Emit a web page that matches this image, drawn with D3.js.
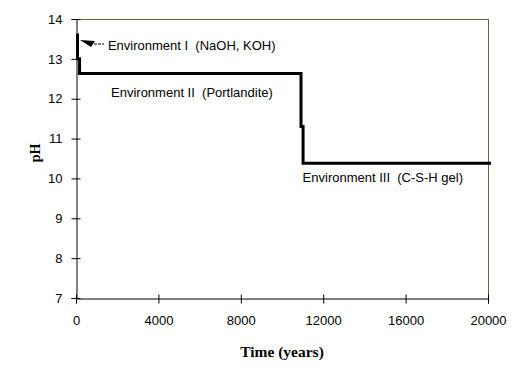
<!DOCTYPE html>
<html>
<head>
<meta charset="utf-8">
<script src="https://cdn.jsdelivr.net/npm/d3@7"></script>
<style>
  body { margin: 0; background: #fff; }
</style>
</head>
<body>
<svg id="chart" width="515" height="381"></svg>
<script>
// step curve of pH over time
const years = [0, 0, 100, 100, 10850, 10850, 10950, 10950, 20000];
const phValues = [13.6, 13.0, 13.0, 12.63, 12.63, 11.3, 11.3, 10.38, 10.38];
const xTicks = [0, 4000, 8000, 12000, 16000, 20000];
const yTicks = [7, 8, 9, 10, 11, 12, 13, 14];
const labels = [
  { text: "Environment I  (NaOH, KOH)", t: 1550, ph: 13.22 },
  { text: "Environment II  (Portlandite)", t: 1700, ph: 12.04 },
  { text: "Environment III  (C-S-H gel)", t: 11000, ph: 9.91 }
];

const sans = "Arial, 'Liberation Sans', sans-serif";
const serif = "'Times New Roman', 'Liberation Serif', serif";

const svg = d3.select("#chart");
const mLeft = 76, mRight = 488, mTop = 19, mBottom = 298;

const x = d3.scaleLinear().domain([0, 20000]).range([mLeft, mRight]);
const y = d3.scaleLinear().domain([7, 14]).range([mBottom, mTop]);

// plot frame (top & right in olive)
svg.append("line")
  .attr("x1", mLeft).attr("x2", mRight).attr("y1", mTop + 0.5).attr("y2", mTop + 0.5)
  .attr("stroke", "#666633").attr("stroke-width", 1);
svg.append("line")
  .attr("x1", mRight + 0.5).attr("x2", mRight + 0.5).attr("y1", mTop).attr("y2", mBottom)
  .attr("stroke", "#666633").attr("stroke-width", 1);

const xAxis = svg.append("g")
  .attr("transform", "translate(0," + (mBottom + 0.5) + ")")
  .call(d3.axisBottom(x).tickValues(xTicks).tickSize(5).tickPadding(12).tickFormat(d3.format("d")));
xAxis.selectAll(".tick line").attr("y1", -4);

const yAxis = svg.append("g")
  .attr("transform", "translate(" + (mLeft + 0.5) + ",0)")
  .call(d3.axisLeft(y).tickValues(yTicks).tickSize(5).tickPadding(9).tickFormat(d3.format("d")));
yAxis.selectAll(".tick line").attr("x1", 4);

svg.selectAll(".domain").attr("stroke", "#000");
svg.selectAll(".tick text")
  .style("font-size", "13px")
  .style("font-family", sans)
  .attr("fill", "#000");

// data line
const line = d3.line()
  .x((d, i) => x(years[i]) + 1.5)
  .y(d => y(d));

svg.append("path")
  .datum(phValues)
  .attr("d", line)
  .attr("fill", "none")
  .attr("stroke", "#000")
  .attr("stroke-width", 3)
  .attr("stroke-linejoin", "miter")
  .attr("stroke-linecap", "square");

// annotations
svg.selectAll("text.env")
  .data(labels)
  .enter().append("text")
  .attr("class", "env")
  .attr("x", d => x(d.t))
  .attr("y", d => y(d.ph))
  .style("font-size", "13px")
  .style("font-family", sans)
  .style("white-space", "pre")
  .attr("fill", "#000")
  .text(d => d.text);

// arrow from first label to the curve
svg.append("line")
  .attr("x1", 94).attr("y1", 44).attr("x2", 104).attr("y2", 44)
  .attr("stroke", "#000").attr("stroke-width", 1).attr("stroke-dasharray", "3,1");
svg.append("path")
  .attr("d", "M80,40 L95,41 L91,47 Z")
  .attr("fill", "#000");

// axis titles
svg.append("text")
  .attr("x", (mLeft + mRight) / 2)
  .attr("y", 357)
  .attr("text-anchor", "middle")
  .style("font-family", serif)
  .style("font-weight", "bold")
  .style("font-size", "15.5px")
  .text("Time (years)");

svg.append("text")
  .attr("transform", "translate(40,153) rotate(-90)")
  .attr("text-anchor", "middle")
  .style("font-family", serif)
  .style("font-weight", "bold")
  .style("font-size", "14px")
  .text("pH");
</script>
</body>
</html>
